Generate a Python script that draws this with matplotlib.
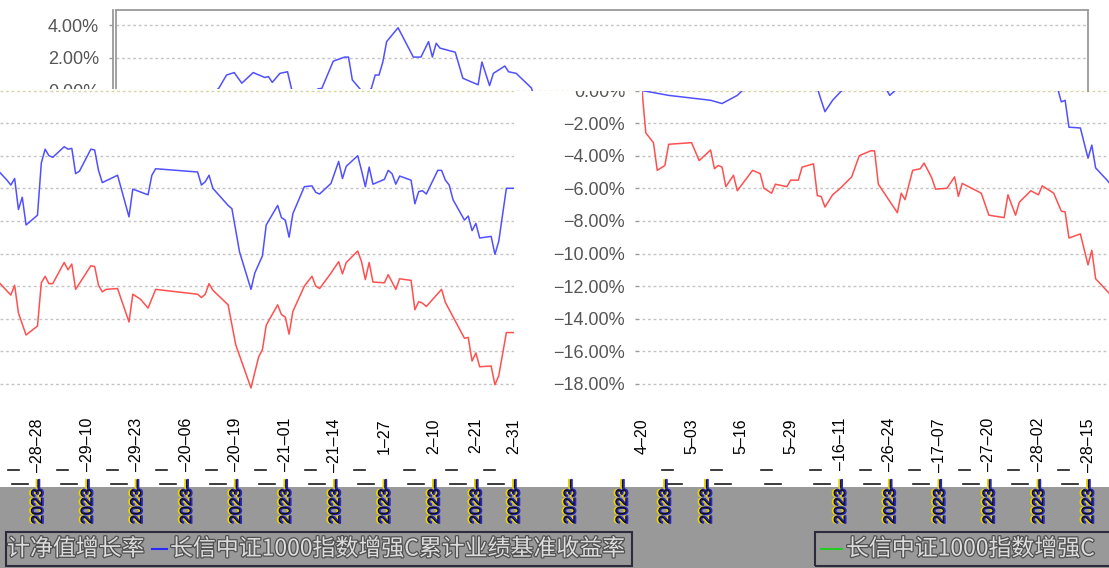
import matplotlib
matplotlib.use("Agg")
import matplotlib.pyplot as plt
import matplotlib.patheffects as pe
import matplotlib.transforms as mtransforms
from matplotlib.lines import Line2D
from matplotlib.patches import Rectangle

plt.rcParams['font.family'] = ['Liberation Sans', 'Noto Sans CJK SC', 'DejaVu Sans']

# 累计收益率 (%)，横轴为自 2023-04-20 起的天数
blue_day = [0, 7, 18, 21, 25, 27, 29, 31, 33, 36,
            39, 40, 41, 43, 45, 46, 47, 48, 50, 52,
            53, 54, 56, 57, 60, 61, 62, 64, 65, 67,
            68, 69, 70, 71, 74, 78, 80, 82, 83, 84,
            85, 89, 91, 95, 96, 98, 99, 102, 103, 105,
            109, 110, 111, 112, 115, 117, 118, 119, 122, 123,
            124, 125, 126, 127, 130, 131, 132, 133, 134, 137,
            138, 139, 140, 141, 144, 145, 146, 147, 151, 154,
            155, 159, 160, 161, 172, 173, 174, 175, 176, 180,
            181, 183, 186, 187, 189, 190, 193, 194, 195, 196,
            197, 200, 202, 203, 204, 207, 209, 210, 211, 214,
            215, 216, 217, 218, 221, 222, 223, 224, 225, 228,
            229, 230, 231, 232, 235, 236, 237, 238, 239, 242,
            243, 244, 245, 246, 249, 250, 251, 253, 255]
blue_val = [0.0, -0.3, -0.6, -0.8, -0.3, 0.15, 0.95, 1.1, 0.45, 1.1,
            0.8, 0.85, 0.5, 1.05, 1.15, 0.15, -0.6, -1.3, -0.6, -0.1,
            0.1, 0.13, 1.25, 1.8, 2.05, 2.05, 0.65, 0.1, -0.3, 0.13,
            0.95, 0.95, 1.75, 3.0, 3.85, 2.05, 2.05, 3.0, 2.05, 2.9,
            2.6, 2.35, 0.75, 0.35, 1.75, 0.3, 1.05, 1.5, 1.15, 1.05,
            0.15, -0.7, -0.6, -2.25, -2.3, -4.15, -3.35, -4.75, -5.5, -5.8,
            -5.4, -7.3, -6.55, -8.25, -7.65, -4.45, -3.6, -4.0, -4.1, -3.45,
            -3.6, -3.55, -5.1, -4.95, -3.6, -3.65, -4.9, -5.65, -5.2, -7.75,
            -6.05, -6.4, -5.2, -4.8, -5.0, -5.8, -5.6, -5.2, -6.0, -7.05,
            -7.25, -9.9, -12.2, -11.2, -10.15, -8.25, -7.05, -7.8, -7.95, -9.0,
            -7.55, -5.9, -5.85, -6.25, -6.35, -5.7, -4.35, -5.4, -4.65, -4.0,
            -4.9, -5.9, -4.7, -5.75, -5.45, -4.9, -5.1, -5.75, -5.25, -5.5,
            -6.95, -6.2, -6.15, -6.35, -4.9, -4.9, -5.5, -5.8, -6.7, -7.95,
            -7.7, -8.6, -8.15, -9.05, -8.95, -10.05, -9.25, -6.0, -6.0]

red_day = [0, 1, 3, 4, 6, 7, 13, 15, 18, 19,
           20, 21, 22, 24, 25, 29, 31, 32, 34, 35,
           38, 39, 41, 42, 45, 46, 47, 48, 50, 52,
           55, 57, 60, 61, 62, 67, 68, 69, 71, 73,
           74, 76, 77, 80, 82, 83, 84, 89, 91, 95,
           96, 98, 99, 102, 104, 105, 108, 110, 111, 112,
           115, 117, 118, 119, 122, 123, 124, 125, 127, 130,
           131, 132, 133, 134, 137, 138, 139, 140, 144, 145,
           146, 147, 148, 151, 154, 155, 157, 159, 161, 172,
           173, 174, 175, 176, 180, 182, 186, 188, 189, 190,
           193, 194, 195, 196, 197, 200, 202, 203, 204, 207,
           209, 210, 211, 214, 215, 216, 217, 218, 221, 222,
           224, 225, 228, 229, 230, 231, 232, 236, 237, 242,
           243, 244, 245, 246, 249, 250, 251, 253, 255]
red_val = [0.0, -2.6, -3.2, -4.9, -4.6, -3.3, -3.2, -4.3, -3.65, -4.8,
           -4.6, -4.7, -5.9, -5.2, -6.15, -4.9, -5.1, -6.0, -6.3, -5.75,
           -5.9, -5.5, -5.5, -4.7, -4.5, -6.45, -6.5, -7.15, -6.4, -6.0,
           -5.3, -4.0, -3.7, -3.7, -5.75, -7.5, -6.3, -6.7, -4.9, -4.8,
           -4.45, -5.35, -6.05, -6.0, -5.3, -6.5, -5.7, -6.3, -7.65, -7.8,
           -6.4, -7.65, -6.85, -6.15, -6.4, -5.85, -6.3, -7.4, -7.45, -9.05,
           -8.8, -10.7, -9.8, -11.55, -12.3, -12.55, -11.95, -13.65, -15.0, -14.45,
           -11.8, -11.4, -11.85, -11.85, -10.55, -11.0, -10.65, -12.2, -10.75, -10.8,
           -11.95, -12.35, -12.2, -12.15, -14.2, -12.5, -12.8, -13.35, -12.2, -12.5,
           -12.7, -12.5, -11.85, -12.25, -13.15, -15.6, -18.25, -16.35, -15.9, -14.4,
           -13.15, -13.75, -13.9, -14.95, -13.55, -12.0, -11.4, -12.0, -12.15, -11.2,
           -10.5, -11.25, -10.55, -9.85, -10.5, -11.6, -10.55, -11.75, -11.8, -11.3,
           -12.2, -11.55, -11.65, -13.45, -12.95, -13.05, -13.25, -12.2, -13.0, -15.2,
           -15.15, -16.6, -16.1, -16.95, -16.9, -18.05, -17.5, -14.85, -14.85]

# 横轴刻度（天数）与画面上可见的标签片段
tick_day = [0, 13, 26, 39, 52, 65, 78, 91, 104, 117,
            130, 143, 156, 169, 182, 195, 208, 221, 234, 245, 255]
right_frag = ["4–20", "5–03", "5–16", "5–29", "–16–11", "–26–24",
              "–17–07", "–27–20", "–28–02", "–28–15"]
left_frag = ["–28–28", "–29–10", "–29–23", "–20–06", "–20–19", "–21–01",
             "–21–14", "1–27", "2–10", "2–21", "2–31"]
year_text = "2023–"
mid_year_px = [570, 622, 665, 706]

legend_a = "计净值增长率"
legend_b = "长信中证1000指数增强C累计业绩基准收益率"
legend_c = "长信中证1000指数增强C"

top_ticks = [0, 2, 4]
low_ticks = [0, -2, -4, -6, -8, -10, -12, -14, -16, -18]

BLUE = '#5050ff'
RED = '#ff5050'
GRID = '#c4c4c4'
ZERO_GRID = '#d6d6a0'
FRAME = '#9a9a9a'
LABEL = '#555555'
BAND = '#999999'

W, H = 1109, 568
PX_PER_PCT = 16.3
PX_PER_DAY = 3.812
ZERO_Y = 90.5

fig = plt.figure(figsize=(W / 100, H / 100), dpi=100)
fig.patch.set_facecolor('white')


def px_axes(x0, y0, x1, y1, z):
    ax = fig.add_axes([x0 / W, 1 - y1 / H, (x1 - x0) / W, (y1 - y0) / H])
    ax.set_zorder(z)
    return ax


def pct(v):
    return f"{v:.2f}%".replace("-", "\u2212")


def draw_lines(ax, levels):
    for v in levels:
        ax.axhline(v, color=ZERO_GRID if v == 0 else GRID, lw=1,
                   ls=(0, (2, 2)), zorder=1)
    ax.plot(red_day, red_val, color=RED, lw=1.1, zorder=2)
    ax.plot(blue_day, blue_val, color=BLUE, lw=1.1, zorder=3)
    for s in ax.spines.values():
        s.set_visible(False)


def y_labels(ax, ticks):
    ax.set_yticks(ticks, [pct(v) for v in ticks])
    ax.spines['left'].set_position(('outward', 2.2))
    ax.tick_params(axis='y', length=3, width=1, color=FRAME, pad=7,
                   labelsize=13, labelcolor=LABEL)


def x_labels(ax, days, frags):
    ax.set_xticks(days, frags)
    ax.tick_params(axis='x', length=0, pad=18, labelsize=11.5,
                   labelrotation=90, labelcolor='black')


low_lim = ((ZERO_Y - 393) / PX_PER_PCT, (ZERO_Y - 89) / PX_PER_PCT)

# 右侧拼块
ax_r = px_axes(642, 89, 1109, 393, 1)
ax_r.set_facecolor('none')
draw_lines(ax_r, low_ticks)
ax_r.set_xlim(0, (1109 - 642) / PX_PER_DAY)
ax_r.set_ylim(*low_lim)
y_labels(ax_r, low_ticks)
x_labels(ax_r, tick_day[:10], right_frag)

# 顶部拼块
ax_t = px_axes(116, 10, 1088, ZERO_Y, 2)
draw_lines(ax_t, top_ticks)
ax_t.set_xlim(0, 255)
ax_t.set_ylim(0, (ZERO_Y - 10) / PX_PER_PCT)
ax_t.set_xticks([])
y_labels(ax_t, top_ticks)
for side in ['left', 'top', 'right']:
    ax_t.spines[side].set_visible(True)
    ax_t.spines[side].set_color(FRAME)
    ax_t.spines[side].set_linewidth(1.3)
ax_t.axvline(0, color=FRAME, lw=1.3, clip_on=False)

# 左侧拼块
ax_l = px_axes(0, 89, 514, 393, 3)
draw_lines(ax_l, low_ticks)
ax_l.set_xlim(255 - 514 / PX_PER_DAY, 255)
ax_l.set_ylim(*low_lim)
ax_l.tick_params(axis='y', left=False, labelleft=False)
x_labels(ax_l, tick_day[10:], left_frag)

# 灰色底栏
ax_b = px_axes(0, 487, W, H, 0)
ax_b.set_facecolor(BAND)
ax_b.set_xticks([])
ax_b.set_yticks([])
for s in ax_b.spines.values():
    s.set_visible(False)

fringe = [pe.Stroke(offset=(-0.8, 0), linewidth=1.0, foreground='#e8d400'),
          pe.Stroke(offset=(0.8, 0), linewidth=1.0, foreground='#2828c8'),
          pe.Normal()]
year_y = 1 - 524 / H
tr_l = mtransforms.blended_transform_factory(ax_l.transData, fig.transFigure)
tr_r = mtransforms.blended_transform_factory(ax_r.transData, fig.transFigure)
for d in tick_day[10:]:
    fig.text(d, year_y, year_text, transform=tr_l, rotation=90, ha='center',
             va='bottom', fontsize=11.5, color='#111111', path_effects=fringe)
for d in tick_day[4:10]:
    fig.text(d, year_y, year_text, transform=tr_r, rotation=90, ha='center',
             va='bottom', fontsize=11.5, color='#111111', path_effects=fringe)
for x in mid_year_px:
    fig.text(x / W, year_y, year_text, rotation=90, ha='center',
             va='bottom', fontsize=11.5, color='#111111', path_effects=fringe)

# 标签之间残留的短横
dash_px = []
for d in tick_day[:10]:
    dash_px.append(642 + d * PX_PER_DAY)
for d in tick_day[10:]:
    dash_px.append((d - 255) * PX_PER_DAY + 514)
for x in dash_px:
    for (a, b, y) in [(-30, -19, 470), (-26, -10, 484)]:
        if 0 < x + a and x + b < W and not (530 < x + a < 640):
            fig.add_artist(Line2D([(x + a) / W, (x + b) / W],
                                  [1 - y / H, 1 - y / H],
                                  transform=fig.transFigure,
                                  color='#1a1a1a', lw=1.2))

# 图例
cjk = ['Noto Sans CJK SC', 'DejaVu Sans']
leg_y = 1 - 549 / H
leg_fx = [pe.withStroke(linewidth=1.8, foreground='#505050')]
fig.add_artist(Rectangle((6 / W, 1 - 566 / H), 626 / W, 34 / H,
                         transform=fig.transFigure, fill=False,
                         ec='#2c2c3c', lw=1.5))
fig.add_artist(Rectangle((815 / W, 1 - 566 / H), 310 / W, 34 / H,
                         transform=fig.transFigure, fill=False,
                         ec='#2c2c3c', lw=1.5))
fig.text(7 / W, leg_y, legend_a, family=cjk, fontsize=16.5,
         color='#dedede', va='center', path_effects=leg_fx)
fig.add_artist(Line2D([152 / W, 167 / W], [leg_y, leg_y],
                      transform=fig.transFigure, color='#2828ff', lw=1.5))
fig.text(170 / W, leg_y, legend_b, family=cjk, fontsize=16.5,
         color='#dedede', va='center', path_effects=leg_fx)
fig.add_artist(Line2D([821 / W, 842 / W], [leg_y, leg_y],
                      transform=fig.transFigure, color='#22cc22', lw=1.5))
fig.text(846 / W, leg_y, legend_c, family=cjk, fontsize=16.5,
         color='#dedede', va='center', path_effects=leg_fx)

fig.savefig('out.png', dpi=100)
